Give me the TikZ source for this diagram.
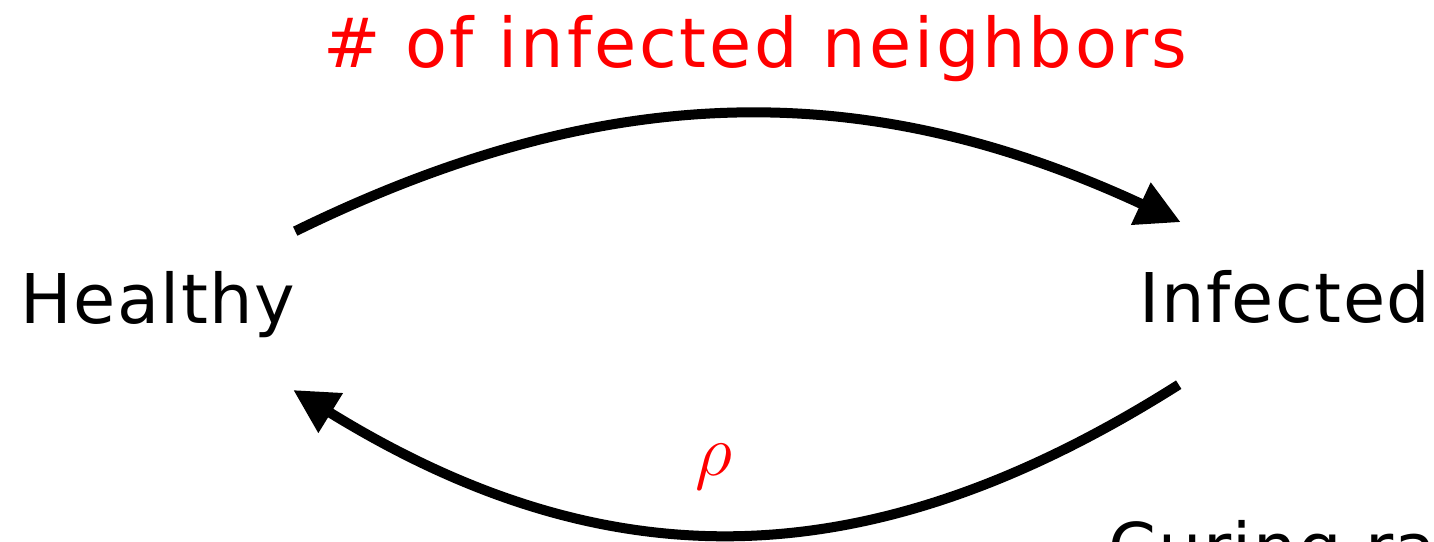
\documentclass[tikz,border=0pt]{standalone}
\usepackage{fontspec}
\setmainfont{DejaVu Sans}
\usetikzlibrary{arrows.meta, positioning}

\begin{document}
\begin{tikzpicture}[
    x=0.01cm, y=0.01cm,
    state/.style={inner sep=0pt, font=\fontsize{19.5}{23}\selectfont\addfontfeatures{LetterSpace=2.2}},
    rate/.style={inner sep=0pt, text=red, font=\fontsize{19.5}{23}\selectfont\addfontfeatures{LetterSpace=4.2}},
    flow/.style={-{Triangle[length=4.4mm, width=4.4mm]}, line width=1mm, draw=black}
]
\useasboundingbox (0,0) rectangle (1434,541);
\clip (0,0) rectangle (1434,541);

\node[state, anchor=base west] (healthy) at (20,218) {Healthy};
\node[state, anchor=base east] (infected) at (1431,219) {Infected};
\node[rate, anchor=base] (infection) at (755,474) {\# of infected neighbors};
\node[rate, anchor=base] (curing) at (714,66) {$\rho$};
\node[state, anchor=base west] (curing_text) at (1108,-31) {Curing rate};

\draw[flow] ([shift={(-1,39)}]healthy.north east) to[bend left=25.5] ([shift={(42,47)}]infected.north west);
\draw[flow] ([shift={(40,-61)}]infected.south west) to[bend left=32, looseness=1.06] ([shift={(-3,-52)}]healthy.south east);

\end{tikzpicture}
\end{document}
